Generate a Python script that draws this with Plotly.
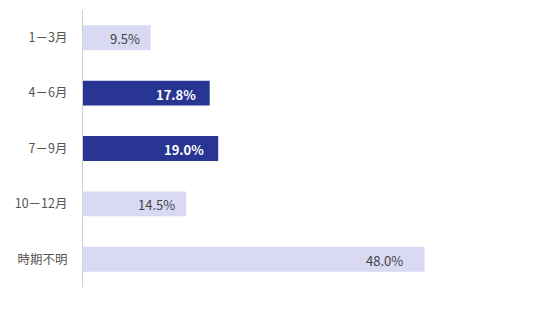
import plotly.graph_objects as go

categories = ["1－3月", "4－6月", "7－9月", "10－12月", "時期不明"]
values = [9.5, 17.8, 19.0, 14.5, 48.0]
highlight = [False, True, True, False, False]

LIGHT = "#d9d9f3"
DARK = "#283593"
FONT = "Noto Sans CJK JP"

colors = [DARK if h else LIGHT for h in highlight]

fig = go.Figure(go.Bar(
    x=values,
    y=categories,
    orientation="h",
    marker=dict(color=colors, line=dict(width=0)),
    width=0.45,
    hoverinfo="skip",
))

longest = max(values)
for cat, v, h in zip(categories, values, highlight):
    pad = 20 if v == longest else (12 if h else 9)
    fig.add_annotation(
        x=v, y=cat, text=f"{v:.1f}%",
        xanchor="right", yanchor="middle", showarrow=False, xshift=-pad, yshift=-1,
        font=dict(family=FONT, size=13, color="#ffffff" if h else "#444444",
                  weight="bold" if h else "normal"),
    )

fig.update_layout(
    width=536, height=328,
    margin=dict(l=83, r=26, t=10, b=41),
    paper_bgcolor="white", plot_bgcolor="white",
    showlegend=False,
    font=dict(family=FONT),
    bargap=0.55,
)
fig.update_xaxes(range=[0, 60], visible=False, showgrid=False, zeroline=False)
fig.update_yaxes(
    autorange="reversed",
    range=[4.5, -0.5],
    showline=True, linecolor="#d0d0d0", linewidth=1,
    showgrid=False, zeroline=False,
    ticks="", ticklabelstandoff=12,
    tickfont=dict(family=FONT, size=12.5, color="#555555"),
)

fig.write_html("out.html")
